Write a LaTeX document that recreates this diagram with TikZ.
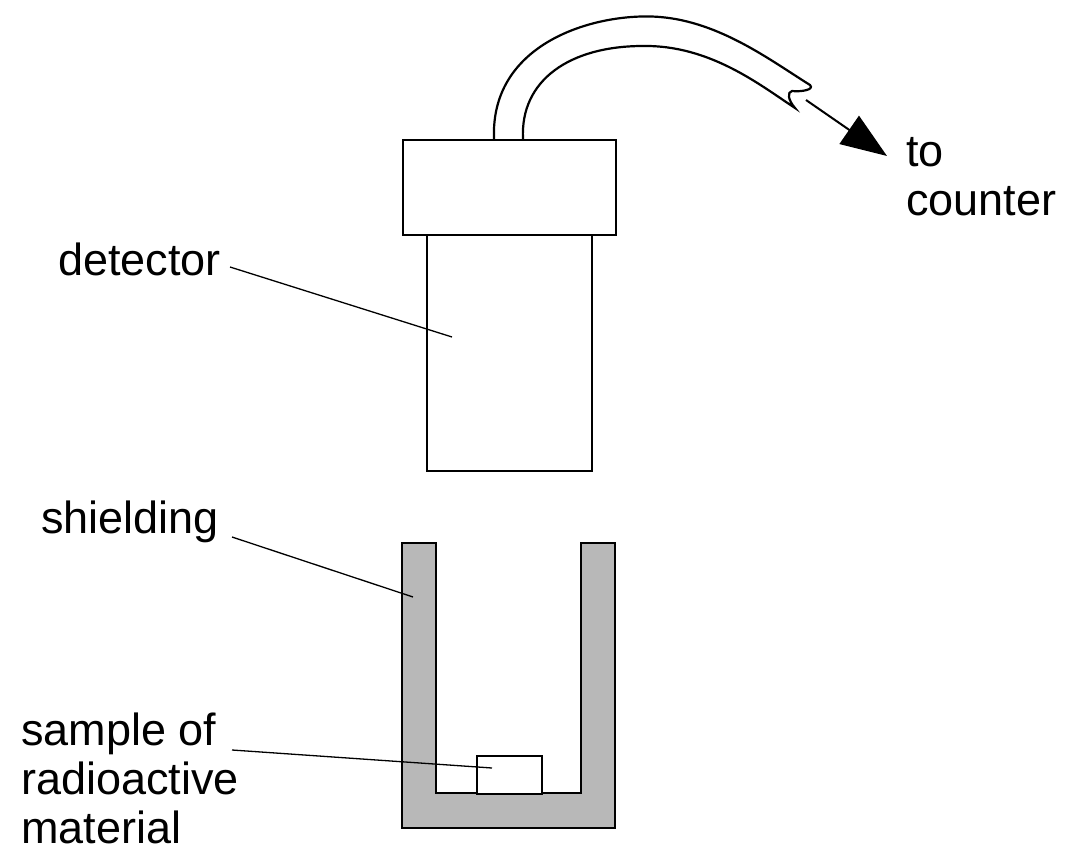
\documentclass[tikz,border=0pt]{standalone}
\usepackage{fontspec}
\setmainfont{Liberation Sans}
\usetikzlibrary{arrows.meta}
\begin{document}
\begin{tikzpicture}[x=1pt,y=-1pt,line width=2.2pt,
  lbl/.style={font=\fontsize{45}{49}\selectfont,inner sep=0pt},
  lead/.style={line width=1.3pt}]
\useasboundingbox (0,0) rectangle (1079,861);
% cable
\draw (494,139) .. controls (490,40) and (600,12) .. (660,17) .. controls (720,22) and (770,60) .. (810,85)
  .. controls (815,90) and (800,92) .. (792,91) .. controls (787,92) and (788,100) .. (795,108)
  .. controls (760,85) and (710,45) .. (643,46) .. controls (570,46) and (520,80) .. (523,139);
\coordinate (cs) at (806,100);
\coordinate (ce) at (887,156);
\draw[-{Triangle[length=46pt,width=34pt]},line width=2pt] (cs) -- (ce);
% detector
\node[draw,fill=white,minimum width=213pt,minimum height=95pt,inner sep=0pt,anchor=north west] (cap) at (402,139) {};
\node[draw,minimum width=165pt,minimum height=236pt,inner sep=0pt,anchor=north west] (body) at (426,234) {};
% shielding
\draw[fill=black!28] (402,543) -- (436,543) -- (436,793) -- (581,793) -- (581,543) -- (615,543) -- (615,828) -- (402,828) -- cycle;
\node[draw,fill=white,minimum width=65pt,minimum height=38pt,inner sep=0pt,anchor=north west] (sample) at (476,755) {};
% labels
\node[lbl,anchor=west] (tdet) at (57,259) {detector};
\node[lbl,anchor=north west,align=left] (tcnt) at (905,136) {to\\counter};
\node[lbl,anchor=west] (tsh) at (40,522) {shielding};
\node[lbl,anchor=west,align=left] (tsam) at (20,778) {sample of\\radioactive\\material};
\coordinate (d1) at (230,267); \coordinate (d2) at (452,337);
\draw[lead] (d1) -- (d2);
\coordinate (s1) at (232,537); \coordinate (s2) at (413,597);
\draw[lead] (s1) -- (s2);
\coordinate (m1) at (232,750); \coordinate (m2) at (492,768);
\draw[lead] (m1) -- (m2);
\end{tikzpicture}
\end{document}
